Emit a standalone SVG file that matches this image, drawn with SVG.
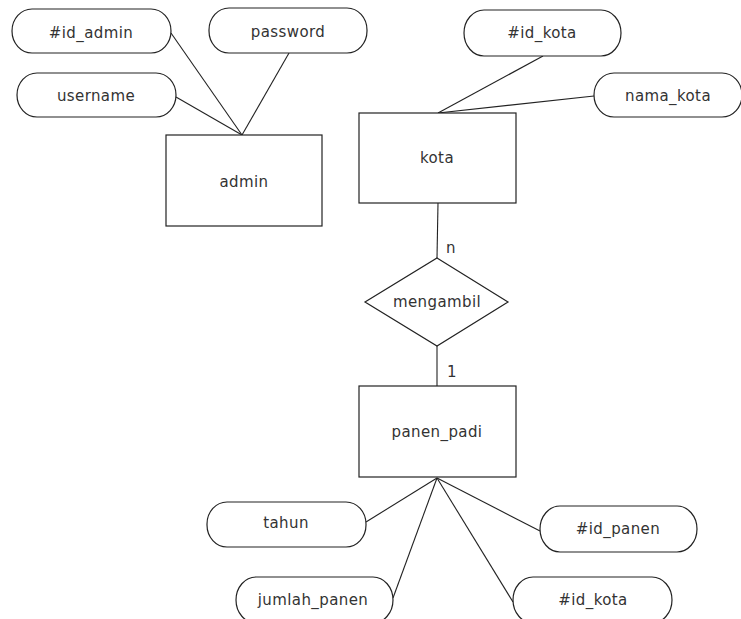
<svg xmlns="http://www.w3.org/2000/svg" width="741" height="619" viewBox="0 0 741 619">
<style>
  .attr { fill: #ffffff; stroke: #222222; stroke-width: 1.2; }
  .ent { fill: #ffffff; stroke: #222222; stroke-width: 1.2; }
  .rel { fill: #ffffff; stroke: #222222; stroke-width: 1.2; }
  .lbl { font-family: "DejaVu Sans", "Liberation Sans", sans-serif; font-size: 15px; letter-spacing: 0.4px; fill: #333333; text-anchor: middle; }
  #connectors line { stroke: #222222; stroke-width: 1.1; }
</style>
<rect x="0" y="0" width="741" height="619" fill="#ffffff"/>
<g id="connectors">
  <line x1="171" y1="33" x2="242" y2="135"/>
  <line x1="289" y1="53" x2="242" y2="135"/>
  <line x1="176" y1="97" x2="242" y2="135"/>
  <line x1="543" y1="56" x2="438" y2="113"/>
  <line x1="594" y1="96" x2="438" y2="113"/>
  <line x1="438" y1="203" x2="437" y2="258"/>
  <line x1="437" y1="346" x2="437" y2="386"/>
  <line x1="366" y1="522" x2="437" y2="478"/>
  <line x1="540" y1="531" x2="437" y2="478"/>
  <line x1="393" y1="598" x2="437" y2="478"/>
  <line x1="513" y1="602" x2="437" y2="478"/>
  <text class="lbl" x="451" y="253">n</text>
  <text class="lbl" x="452" y="377">1</text>
</g>
<g id="admin">
  <rect class="ent" x="166" y="135" width="156" height="91"/>
  <text class="lbl" x="244" y="187">admin</text>
</g>
<g id="attr_id_admin">
  <rect class="attr" x="12" y="9" width="159" height="44" rx="20" ry="22"/>
  <text class="lbl" x="91" y="38">#id_admin</text>
</g>
<g id="attr_password">
  <rect class="attr" x="209" y="8" width="158" height="45" rx="20" ry="22"/>
  <text class="lbl" x="288" y="37">password</text>
</g>
<g id="attr_username">
  <rect class="attr" x="17" y="73" width="159" height="44" rx="20" ry="22"/>
  <text class="lbl" x="96" y="101">username</text>
</g>
<g id="kota">
  <rect class="ent" x="359" y="113" width="157" height="90"/>
  <text class="lbl" x="437" y="163">kota</text>
</g>
<g id="attr_id_kota">
  <rect class="attr" x="464" y="10" width="157" height="46" rx="20" ry="23"/>
  <text class="lbl" x="542" y="38">#id_kota</text>
</g>
<g id="attr_nama_kota">
  <rect class="attr" x="594" y="73" width="148" height="44" rx="20" ry="22"/>
  <text class="lbl" x="668" y="101">nama_kota</text>
</g>
<g id="mengambil">
  <polygon class="rel" points="437,258 508,302 437,346 365,302"/>
  <text class="lbl" x="437" y="307">mengambil</text>
</g>
<g id="panen_padi">
  <rect class="ent" x="359" y="386" width="157" height="91"/>
  <text class="lbl" x="437" y="437">panen_padi</text>
</g>
<g id="attr_tahun">
  <rect class="attr" x="207" y="502" width="159" height="45" rx="20" ry="22"/>
  <text class="lbl" x="286" y="528">tahun</text>
</g>
<g id="attr_id_panen">
  <rect class="attr" x="540" y="506" width="157" height="46" rx="20" ry="23"/>
  <text class="lbl" x="618" y="534">#id_panen</text>
</g>
<g id="attr_jumlah_panen">
  <rect class="attr" x="236" y="577" width="157" height="46" rx="20" ry="23"/>
  <text class="lbl" x="313" y="605">jumlah_panen</text>
</g>
<g id="attr_id_kota_panen">
  <rect class="attr" x="513" y="577" width="159" height="46" rx="20" ry="23"/>
  <text class="lbl" x="593" y="605">#id_kota</text>
</g>
</svg>
